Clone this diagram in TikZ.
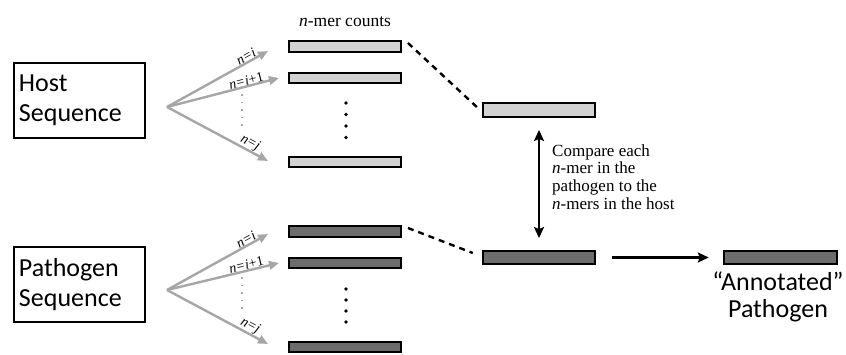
\documentclass[tikz,border=0pt]{standalone}
\usepackage{fontspec}
\setmainfont{Liberation Serif}
\newfontfamily\labsans{Carlito}
\usetikzlibrary{arrows.meta}
\definecolor{lightbar}{HTML}{D2D2D2}
\definecolor{darkbar}{HTML}{6C6C6C}
\definecolor{fangray}{HTML}{A6A6A6}
\newcommand{\nlabtext}[1]{\textit{n}\kern0.6pt=\kern0.8pt#1}
\begin{document}
\begin{tikzpicture}[x=1pt,y=-1pt,
  hbar/.style={draw=black,line width=2.4pt,fill=lightbar,minimum width=111.5pt,minimum height=10.5pt,inner sep=0pt},
  pbar/.style={hbar,fill=darkbar},
  seqbox/.style={draw=black,line width=2pt,text width=121pt,inner xsep=5pt,inner ysep=0pt,minimum height=75pt,align=left,font=\labsans\fontsize{26}{30}\selectfont},
  fanarrow/.style={draw=fangray,line width=2.4pt,-{Triangle[length=10pt,width=8.5pt]}},
  nlab/.style={font=\fontsize{14}{14}\selectfont,sloped,above,inner sep=0pt},
  vdots/.style={draw=fangray,line width=1.6pt,dash pattern=on 1.6pt off 6pt},
  bdot/.style={fill=black,circle,inner sep=0pt,minimum size=3.6pt},
  conn/.style={draw=black,line width=2.4pt,dash pattern=on 6pt off 5pt},
  blk/.style={draw=black,line width=2.4pt,-{Stealth[length=11pt,width=10pt,inset=2pt]}},
  blk2/.style={draw=black,line width=2.4pt,{Stealth[length=11pt,width=10pt,inset=2pt]}-{Stealth[length=11pt,width=10pt,inset=2pt]}},
]
\useasboundingbox (0,0) rectangle (846,354);

% sequence boxes
\node[seqbox] (host) at (79.5,100.5) {Host\\Sequence};
\node[seqbox] (path) at (79.5,284.5) {Pathogen\\Sequence};

% caption
\node[font=\fontsize{17.5}{17.5}\selectfont] (cap) at (345,22) {\textit{n}-mer counts};

% host bars
\node[hbar] (h1) at (345,46.5) {};
\node[hbar] (h2) at (345,78) {};
\node[hbar] (h3) at (345,162) {};
\foreach \yy in {103,114.5,126,137.5} \node[bdot] at (346,\yy) {};

% pathogen bars
\node[pbar] (p1) at (345,231.5) {};
\node[pbar] (p2) at (345,263) {};
\node[pbar] (p3) at (345,347) {};
\foreach \yy in {289,300,311,322} \node[bdot] at (346,\yy) {};

% host fan
\coordinate (hf) at (167,107);
\coordinate (ht1) at (268,51);
\coordinate (ht2) at (279,78);
\coordinate (ht3) at (268,161);
\draw[fanarrow] (hf) -- node[nlab,pos=0.81] (hl1) {\nlabtext{\textit{i}}} (ht1);
\draw[fanarrow] (hf) -- node[nlab,pos=0.72] (hl2) {\nlabtext{\textit{i}+1}} (ht2);
\draw[fanarrow] (hf) -- node[nlab,pos=0.79] (hl3) {\nlabtext{\textit{j}}} (ht3);
\coordinate (hv1) at (242,94);
\coordinate (hv2) at (242,127);
\draw[vdots] (hv1) -- (hv2);

% pathogen fan
\coordinate (pf) at (167,290);
\coordinate (pt1) at (268,234);
\coordinate (pt2) at (279,263);
\coordinate (pt3) at (268,344);
\draw[fanarrow] (pf) -- node[nlab,pos=0.81] (pl1) {\nlabtext{\textit{i}}} (pt1);
\draw[fanarrow] (pf) -- node[nlab,pos=0.72] (pl2) {\nlabtext{\textit{i}+1}} (pt2);
\draw[fanarrow] (pf) -- node[nlab,pos=0.79] (pl3) {\nlabtext{\textit{j}}} (pt3);
\coordinate (pv1) at (242,277);
\coordinate (pv2) at (242,310);
\draw[vdots] (pv1) -- (pv2);

% middle bars
\node[hbar,minimum height=13.5pt,minimum width=112pt] (hm) at (539,110) {};
\node[pbar,minimum height=12.5pt,minimum width=112pt] (pm) at (539,257.5) {};
\node[pbar,minimum height=12.5pt,minimum width=113pt] (pa) at (780.5,257.5) {};

% dashed connectors
\draw[conn] ([xshift=6pt,yshift=3.5pt]h1.east) -- ([xshift=-5pt,yshift=3pt]hm.west);
\draw[conn] ([xshift=6pt,yshift=3.5pt]p1.east) -- ([xshift=-9pt,yshift=4.5pt]pm.west);

% compare arrow
\draw[blk2] ([yshift=-12pt]hm.south) -- ([yshift=12pt]pm.north);
\node[anchor=north west,align=left,inner sep=0pt,font=\fontsize{17}{17.9}\selectfont] (cmp) at (552,144)
  {Compare each\\\textit{n}-mer in the\\pathogen to the\\\textit{n}-mers in the host};

% annotate arrow
\draw[blk] ([xshift=16pt]pm.east) -- ([xshift=-14pt]pa.west);
\node[align=center,inner sep=0pt,font=\labsans\fontsize{26}{27}\selectfont] (ann) at (778,297) {“Annotated”\\Pathogen};
\end{tikzpicture}
\end{document}
